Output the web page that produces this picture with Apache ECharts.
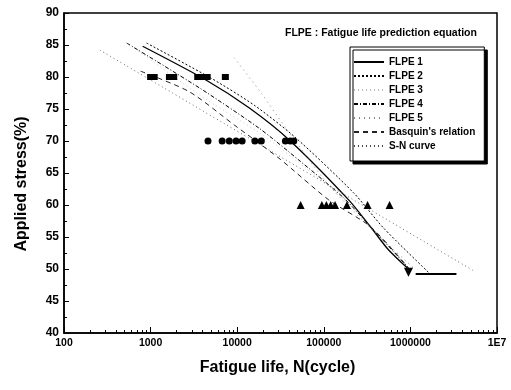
<!DOCTYPE html>
<html>
<head>
<meta charset="utf-8">
<script src="https://cdn.jsdelivr.net/npm/echarts@6/dist/echarts.min.js"></script>
<style>
html,body{margin:0;padding:0;background:#fff;}
#chart{width:511px;height:390px;}
</style>
</head>
<body>
<div id="chart"></div>
<script>
// 轴刻度
var xTicks = [100, 1000, 10000, 100000, 1000000, 10000000];

// 实验点 (N, 应力%)
var squares80 = [[1000,80],[1100,80],[1650,80],[1850,80],[3500,80],[4000,80],[4500,80],[7300,80]];
var circles70 = [[4600,70],[6700,70],[8100,70],[9700,70],[11400,70],[16000,70],[19000,70],[36000,70],[41000,70],[45000,70]];
var triangles60 = [[54000,60],[95000,60],[107000,60],[120000,60],[135000,60],[185000,60],[320000,60],[575000,60]];
var runout50 = [[950000,49.5]];
var runoutArrow = [[1150000,49.2],[3400000,49.2]];

// 预测曲线
var flpe1 = [[810,84.8],[4400,79.5],[13700,75.2],[39600,70.2],[193600,60.8],[346000,56.6],[558000,53.0],[948000,50.0]];
var flpe2 = [[900,85.3],[5020,79.8],[15700,75.6],[46500,70.6],[221000,61.9],[490000,56.4],[1610000,49.5]];
var flpe3 = [[655,84.5],[3660,77.2],[17900,71.3],[51700,66.6],[149000,61.6],[347000,56.6],[948000,50.2]];
var flpe4 = [[530,85.3],[3660,78.3],[17900,72.0],[51700,67.0],[170000,61.1],[347000,56.6],[948000,50.2]];
var flpe5 = [[9250,83.0],[18900,77.5],[36600,72.0],[114000,63.1],[347000,56.4],[1080000,50.2]];
var basquin = [[768,80.9],[2800,77.7],[9250,72.5],[30400,67.3],[114000,60.8],[347000,56.6],[948000,50.2]];
var snCurve = [[260,84.2],[5400000,49.7]];

var xMinor = [];
for (var d = 100; d < 10000000; d *= 10) {
	for (var k = 2; k <= 9; k++) { xMinor.push(k * d); }
}

var FONT = '"Liberation Sans", Arial, sans-serif';
var myChart = echarts.init(document.getElementById('chart'));

function lineSeries(name, data, color, type, width){
	return {
		name: name,
		type: 'line',
		data: data,
		symbol: 'none',
		smooth: 0.25,
		lineStyle: { color: color, type: type, width: width },
		itemStyle: { color: color },
		z: 3
	};
}

var option = {
	animation: false,
	backgroundColor: '#fff',
	textStyle: { fontFamily: FONT },
	title: {
		text: 'FLPE : Fatigue life prediction equation',
		left: 285,
		top: 28,
		padding: 0,
		textStyle: { fontSize: 10.5, fontWeight: 'bold', color: '#000', fontFamily: FONT }
	},
	legend: {
		data: ['FLPE 1','FLPE 2','FLPE 3','FLPE 4','FLPE 5',"Basquin's relation",'S-N curve'],
		orient: 'vertical',
		left: 350,
		top: 47,
		padding: [10, 9, 10, 3],
		itemWidth: 30,
		itemHeight: 10,
		itemGap: 4,
		backgroundColor: '#fff',
		borderColor: '#000',
		borderWidth: 1,
		shadowColor: '#000',
		shadowBlur: 0,
		shadowOffsetX: 3,
		shadowOffsetY: 3,
		itemStyle: { color: 'rgba(0,0,0,0)', borderWidth: 0, opacity: 0 },
		textStyle: { fontSize: 10, fontWeight: 'bold', color: '#000', fontFamily: FONT }
	},
	grid: {
		left: 64, right: 14, top: 13, bottom: 57,
		show: true,
		borderColor: '#000',
		borderWidth: 1.5,
		containLabel: false
	},
	xAxis: [{
		type: 'log',
		logBase: 10,
		min: 100,
		max: 10000000,
		name: 'Fatigue life, N(cycle)',
		nameLocation: 'middle',
		nameGap: 27,
		nameTextStyle: { fontSize: 16, fontWeight: 'bold', color: '#000', fontFamily: FONT, padding: [0, 6, 0, 0] },
		axisLine: { lineStyle: { color: '#000', width: 1.5 } },
		axisTick: { show: true, inside: true, length: 6, customValues: xTicks, lineStyle: { color: '#000', width: 1 } },
		axisLabel: {
			customValues: xTicks,
			margin: 5,
			fontSize: 10.5,
			fontWeight: 'bold',
			color: '#000',
			fontFamily: FONT,
			formatter: function(v){ return v >= 10000000 ? '1E7' : String(Math.round(v)); }
		},
		splitLine: { show: false }
	}, {
		type: 'log',
		logBase: 10,
		min: 100,
		max: 10000000,
		position: 'bottom',
		axisLine: { show: false },
		axisTick: { show: true, inside: true, length: 3, customValues: xMinor, lineStyle: { color: '#000', width: 1 } },
		axisLabel: { show: false },
		splitLine: { show: false }
	}],
	yAxis: {
		type: 'value',
		min: 40,
		max: 90,
		interval: 5,
		name: 'Applied stress(%)',
		nameLocation: 'middle',
		nameGap: 34,
		nameTextStyle: { fontSize: 16, fontWeight: 'bold', color: '#000', fontFamily: FONT, padding: [0, 22, 0, 0] },
		axisLine: { show: true, lineStyle: { color: '#000', width: 1.5 } },
		axisTick: { show: true, inside: true, length: 5, lineStyle: { color: '#000' } },
		minorTick: { show: true, splitNumber: 2, length: 3, lineStyle: { color: '#000' } },
		axisLabel: { margin: 5, fontSize: 12, fontWeight: 'bold', color: '#000', fontFamily: FONT },
		splitLine: { show: false }
	},
	series: [
		lineSeries('FLPE 1', flpe1, '#000', 'solid', 1.3),
		lineSeries('FLPE 2', flpe2, '#000', [2, 2], 1),
		lineSeries('FLPE 3', flpe3, '#bbb', [1, 3], 0.8),
		lineSeries('FLPE 4', flpe4, '#000', [4, 2, 1, 2], 1),
		lineSeries('FLPE 5', flpe5, '#888', [1, 4], 1),
		lineSeries("Basquin's relation", basquin, '#222', [5, 4], 1),
		lineSeries('S-N curve', snCurve, '#444', [1, 3], 0.8),
		{ type: 'scatter', data: squares80, symbol: 'rect', symbolSize: [7, 6], itemStyle: { color: '#000', opacity: 1 }, z: 4 },
		{ type: 'scatter', data: circles70, symbol: 'circle', symbolSize: 7, itemStyle: { color: '#000', opacity: 1 }, z: 4 },
		{ type: 'scatter', data: triangles60, symbol: 'triangle', symbolSize: 8, itemStyle: { color: '#000', opacity: 1 }, z: 4 },
		{
			type: 'scatter', data: runout50, symbol: 'triangle', symbolRotate: 180, symbolSize: 9,
			itemStyle: { color: '#000', opacity: 1 }, z: 4,
			markLine: {
				silent: true,
				symbol: ['none', 'arrow'],
				symbolSize: [0, 8],
				label: { show: false },
				lineStyle: { color: '#000', type: 'solid', width: 2 },
				data: [[{ coord: runoutArrow[0] }, { coord: runoutArrow[1] }]]
			}
		}
	]
};
myChart.setOption(option);
</script>
</body>
</html>
